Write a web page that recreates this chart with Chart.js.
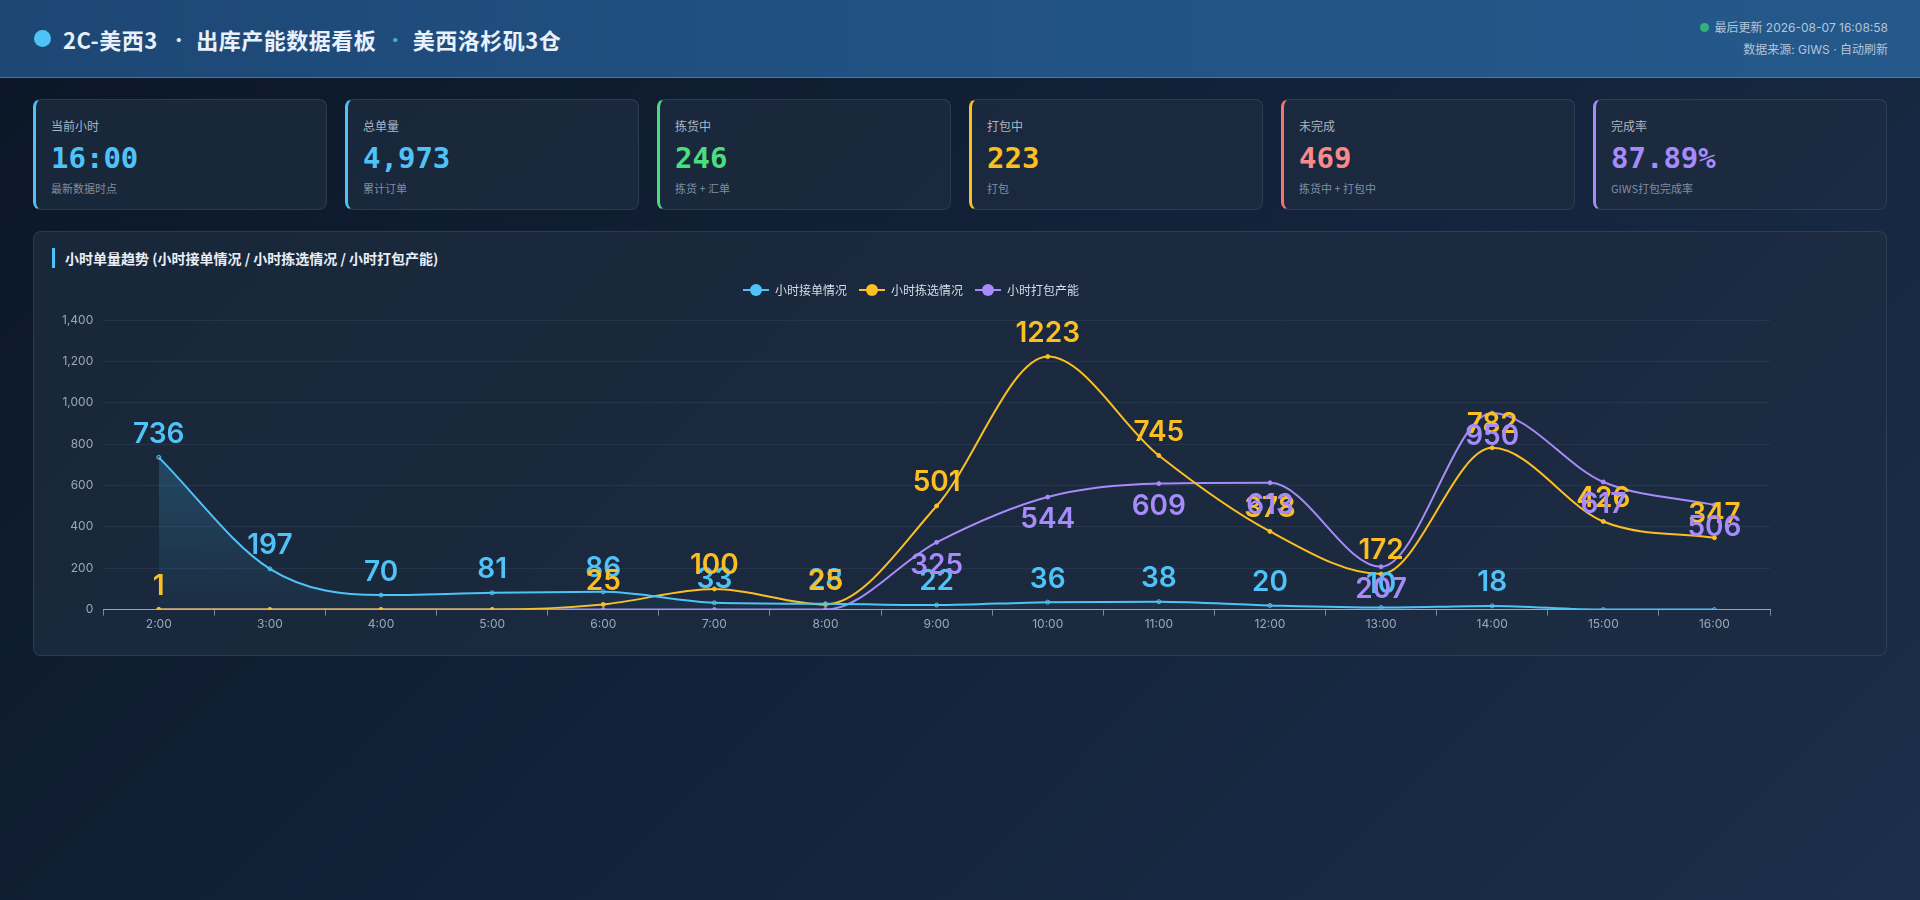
<!DOCTYPE html>
<html lang="zh-CN">
<head>
<meta charset="UTF-8">
<title>2C-美西3 出库产能数据看板</title>
<script src="https://cdn.jsdelivr.net/npm/chart.js@4.4.1/dist/chart.umd.min.js"></script>
<style>
  * { box-sizing: border-box; margin: 0; padding: 0; }
  html, body { width: 1920px; height: 900px; overflow: hidden; }
  body {
    font-family: "Inter", "Noto Sans CJK SC", sans-serif;
    background: linear-gradient(135deg, #0b1727 0%, #132239 50%, #1b2e4b 100%);
    color: #e2e8f0;
  }
  .header {
    height: 78px;
    background: linear-gradient(90deg, #1d4775 0%, #215283 50%, #25598b 100%);
    border-bottom: 1px solid rgba(120, 170, 220, 0.45);
    display: flex; align-items: center; justify-content: space-between;
    padding: 0 32px 0 34px;
  }
  .title { display: flex; align-items: center; font-family: "Noto Sans CJK SC", sans-serif; font-size: 22px; font-weight: 700; color: #e8f1fb; letter-spacing: 0.5px; }
  .title .dot { width: 17px; height: 17px; border-radius: 50%; background: #4fc3f7; margin-right: 12px; }
  .title .sep { color: #dfe9f5; margin: 0 9px 0 13px; font-size: 16px; }
  .title .sep2 { color: #4fa9df; margin: 0 9px 0 11px; font-size: 16px; }
  .meta { text-align: right; font-size: 12px; color: #b4c5d9; line-height: 22px; font-family: "Inter", "Noto Sans CJK SC", sans-serif; }
  .meta .g { display: inline-block; width: 9px; height: 9px; border-radius: 50%; background: #34b07a; margin-right: 5px; vertical-align: -0.5px; }
  .kpis { display: flex; gap: 18px; padding: 0 33px; margin-top: 21px; }
  .kpi {
    flex: 1; height: 111px; border-radius: 8px;
    background: rgba(30, 44, 64, 0.75);
    border: 1px solid rgba(148, 163, 184, 0.16);
    border-left: 3px solid #4fc3f7;
    padding: 17px 16px 0 15px;
  }
  .kpi .lb { font-family: "Noto Sans CJK SC", sans-serif; font-size: 12px; color: #aab6c6; height: 18px; }
  .kpi .v { font-family: "DejaVu Sans Mono", monospace; font-weight: 700; font-size: 29px; line-height: 36px; margin-top: 5px; }
  .kpi .s { font-family: "Noto Sans CJK SC", sans-serif; font-size: 11px; color: #7f8ea3; margin-top: 4px; }
  .card {
    margin: 21px 33px 0 33px; height: 425px; border-radius: 8px;
    background: rgba(30, 44, 64, 0.75);
    border: 1px solid rgba(148, 163, 184, 0.16);
    padding: 16px 18px 0 18px; position: relative;
  }
  .card h3 {
    font-family: "Noto Sans CJK SC", sans-serif; font-size: 14px; font-weight: 700; color: #e8eef6;
    border-left: 3px solid #4fc3f7; padding-left: 10px; height: 20px; line-height: 20px;
  }
  .chart-box { position: relative; height: 362px; width: 1816px; margin-top: 4px; }
</style>
</head>
<body>
<div class="header">
  <div class="title"><span class="dot"></span>2C-美西3<span class="sep">·</span>出库产能数据看板<span class="sep2">·</span>美西洛杉矶3仓</div>
  <div class="meta">
    <div><span class="g"></span>最后更新 2026-08-07 16:08:58</div>
    <div>数据来源: GIWS · 自动刷新</div>
  </div>
</div>

<div class="kpis">
  <div class="kpi" style="border-left-color:#4fc3f7"><div class="lb">当前小时</div><div class="v" style="color:#4fc3f7">16:00</div><div class="s">最新数据时点</div></div>
  <div class="kpi" style="border-left-color:#4fc3f7"><div class="lb">总单量</div><div class="v" style="color:#4fc3f7">4,973</div><div class="s">累计订单</div></div>
  <div class="kpi" style="border-left-color:#4ade80"><div class="lb">拣货中</div><div class="v" style="color:#4ade80">246</div><div class="s">拣货 + 汇单</div></div>
  <div class="kpi" style="border-left-color:#fbbf24"><div class="lb">打包中</div><div class="v" style="color:#fbbf24">223</div><div class="s">打包</div></div>
  <div class="kpi" style="border-left-color:#f87171"><div class="lb">未完成</div><div class="v" style="color:#f88a8a">469</div><div class="s">拣货中 + 打包中</div></div>
  <div class="kpi" style="border-left-color:#a78bfa"><div class="lb">完成率</div><div class="v" style="color:#a78bfa">87.89%</div><div class="s">GIWS打包完成率</div></div>
</div>

<div class="card">
  <h3>小时单量趋势 (小时接单情况 / 小时拣选情况 / 小时打包产能)</h3>
  <div class="chart-box"><canvas id="trend"></canvas></div>
</div>

<script>
const hours = ['2:00', '3:00', '4:00', '5:00', '6:00', '7:00', '8:00', '9:00', '10:00', '11:00', '12:00', '13:00', '14:00', '15:00', '16:00'];
const orderIn = [736, 197, 70, 81, 86, 33, 28, 22, 36, 38, 20, 10, 18, 0, 0];
const picked = [1, 0, 0, 0, 25, 100, 25, 501, 1223, 745, 378, 172, 782, 426, 347];
const packed = [0, 0, 0, 0, 0, 0, 0, 325, 544, 609, 613, 207, 950, 617, 506];
const yTicks = { max: 1400, step: 200 };

const BLUE = '#4fc3f7', YELLOW = '#fbbf24', PURPLE = '#a78bfa';

// legend icon: short line with a dot, like "-●-"
function legendIcon(color) {
  const c = document.createElement('canvas');
  c.width = 26; c.height = 14;
  const g = c.getContext('2d');
  g.strokeStyle = color; g.lineWidth = 2;
  g.beginPath(); g.moveTo(0, 7); g.lineTo(26, 7); g.stroke();
  g.fillStyle = color;
  g.beginPath(); g.arc(13, 7, 6, 0, Math.PI * 2); g.fill();
  return c;
}

// value labels drawn above/below each point, zeros skipped
const valueLabels = {
  id: 'valueLabels',
  afterDatasetsDraw(chart) {
    const ctx = chart.ctx;
    ctx.save();
    ctx.font = '600 28px Inter, "Noto Sans CJK SC", sans-serif';
    ctx.textAlign = 'center';
    ctx.textBaseline = 'middle';
    chart.data.datasets.forEach((ds, i) => {
      const meta = chart.getDatasetMeta(i);
      ctx.fillStyle = ds.borderColor;
      meta.data.forEach((pt, j) => {
        const v = ds.data[j];
        if (!v) return;
        const dy = ds.labelBelow ? 23 : -23;
        ctx.fillText(String(v), pt.x, pt.y + dy);
      });
    });
    ctx.restore();
  }
};

// extra space between legend and plot
const legendGap = {
  id: 'legendGap',
  beforeInit(chart) {
    const fit = chart.legend.fit;
    chart.legend.fit = function () {
      fit.bind(chart.legend)();
      this.height += 14;
    };
  }
};

const ctx = document.getElementById('trend').getContext('2d');
const fillGrad = ctx.createLinearGradient(0, 180, 0, 335);
fillGrad.addColorStop(0, 'rgba(79,195,247,0.22)');
fillGrad.addColorStop(1, 'rgba(79,195,247,0.04)');

new Chart(ctx, {
  type: 'line',
  data: {
    labels: hours,
    datasets: [
      { label: '小时接单情况', data: orderIn, borderColor: BLUE, backgroundColor: fillGrad, fill: 'origin', labelBelow: false, icon: legendIcon(BLUE) },
      { label: '小时拣选情况', data: picked, borderColor: YELLOW, backgroundColor: YELLOW, fill: false, labelBelow: false, icon: legendIcon(YELLOW) },
      { label: '小时打包产能', data: packed, borderColor: PURPLE, backgroundColor: PURPLE, fill: false, labelBelow: true, icon: legendIcon(PURPLE) }
    ]
  },
  options: {
    responsive: true,
    maintainAspectRatio: false,
    animation: false,
    layout: { padding: { left: 0, right: 98, top: 0, bottom: 0 } },
    elements: {
      line: { tension: 0.4, cubicInterpolationMode: 'monotone', borderWidth: 2 },
      point: { radius: 2, hoverRadius: 3, borderWidth: 1 }
    },
    plugins: {
      legend: {
        position: 'top',
        labels: {
          color: '#d5dee9',
          font: { size: 12, family: '"Noto Sans CJK SC", sans-serif' },
          usePointStyle: true,
          pointStyleWidth: 26,
          boxHeight: 12,
          padding: 12,
          generateLabels(chart) {
            return chart.data.datasets.map((ds, i) => ({
              text: ds.label,
              pointStyle: ds.icon,
              fillStyle: ds.borderColor,
              strokeStyle: ds.borderColor,
              fontColor: '#d5dee9',
              lineWidth: 0,
              hidden: false,
              datasetIndex: i
            }));
          }
        }
      },
      tooltip: { enabled: false }
    },
    scales: {
      x: {
        offset: true,
        grid: { display: true, offset: true, drawOnChartArea: false, drawTicks: true, tickLength: 6, color: 'rgba(203,213,225,0.55)' },
        border: { display: true, color: 'rgba(203,213,225,0.7)', width: 1 },
        ticks: { color: '#9aa8ba', font: { size: 12, family: 'Inter, sans-serif' }, padding: 2 }
      },
      y: {
        min: 0,
        max: yTicks.max,
        grid: { color: 'rgba(148,163,184,0.1)', drawTicks: false },
        border: { display: false },
        ticks: { stepSize: yTicks.step, color: '#9aa8ba', font: { size: 12, family: 'Inter, sans-serif' }, padding: 10 }
      }
    }
  },
  plugins: [valueLabels, legendGap]
});
</script>
</body>
</html>
